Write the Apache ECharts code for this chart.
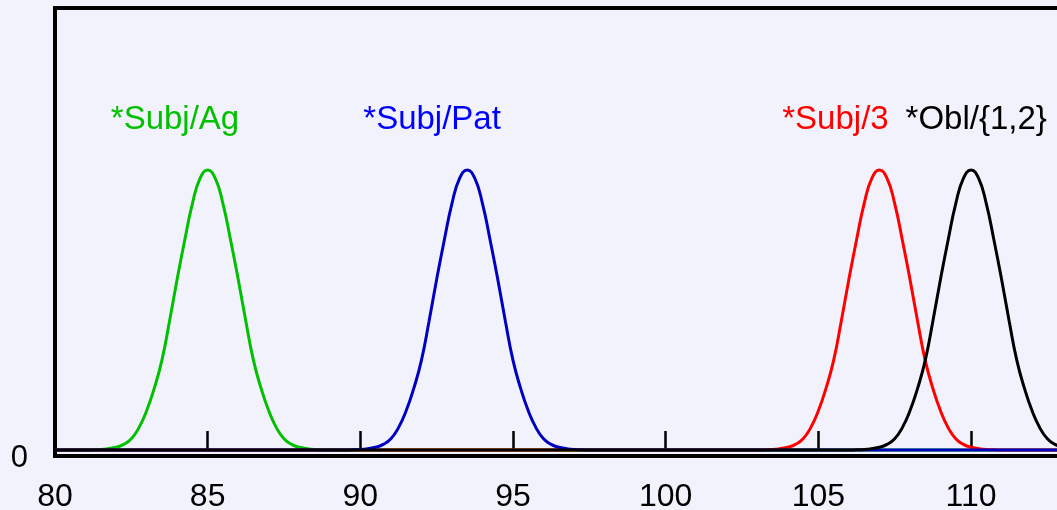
<!DOCTYPE html>
<html>
<head>
<meta charset="utf-8">
<script src="https://cdn.jsdelivr.net/npm/echarts@6/dist/echarts.min.js"></script>
<style>
  html, body { margin: 0; padding: 0; background: #f2f2fc; }
  #chart { width: 1057px; height: 510px; }
</style>
</head>
<body>
<div id="chart"></div>
<script>
// Score distributions for each candidate, read as [x, height] points
const subjAg = [[80,0],[81,0],[81.25,0.001],[81.5,0.002],[81.75,0.005],[82,0.01],[82.25,0.02],[82.5,0.04],[82.75,0.08],[83,0.14],[83.25,0.22],[83.5,0.32],[83.75,0.46],[84,0.61],[84.25,0.75],[84.5,0.88],[84.75,0.97],[85,1],[85.25,0.97],[85.5,0.88],[85.75,0.75],[86,0.61],[86.25,0.46],[86.5,0.32],[86.75,0.22],[87,0.14],[87.25,0.08],[87.5,0.04],[87.75,0.02],[88,0.01],[88.25,0.005],[88.5,0.002],[88.75,0.001],[89,0],[115,0]];
const subjPat = [[80,0],[89.5,0],[89.75,0.001],[90,0.002],[90.25,0.005],[90.5,0.01],[90.75,0.02],[91,0.04],[91.25,0.08],[91.5,0.14],[91.75,0.22],[92,0.32],[92.25,0.46],[92.5,0.61],[92.75,0.75],[93,0.88],[93.25,0.97],[93.5,1],[93.75,0.97],[94,0.88],[94.25,0.75],[94.5,0.61],[94.75,0.46],[95,0.32],[95.25,0.22],[95.5,0.14],[95.75,0.08],[96,0.04],[96.25,0.02],[96.5,0.01],[96.75,0.005],[97,0.002],[97.25,0.001],[97.5,0],[115,0]];
const subj3 = [[80,0],[103,0],[103.25,0.001],[103.5,0.002],[103.75,0.005],[104,0.01],[104.25,0.02],[104.5,0.04],[104.75,0.08],[105,0.14],[105.25,0.22],[105.5,0.32],[105.75,0.46],[106,0.61],[106.25,0.75],[106.5,0.88],[106.75,0.97],[107,1],[107.25,0.97],[107.5,0.88],[107.75,0.75],[108,0.61],[108.25,0.46],[108.5,0.32],[108.75,0.22],[109,0.14],[109.25,0.08],[109.5,0.04],[109.75,0.02],[110,0.01],[110.25,0.005],[110.5,0.002],[110.75,0.001],[111,0],[115,0]];
const obl12 = [[80,0],[106,0],[106.25,0.001],[106.5,0.002],[106.75,0.005],[107,0.01],[107.25,0.02],[107.5,0.04],[107.75,0.08],[108,0.14],[108.25,0.22],[108.5,0.32],[108.75,0.46],[109,0.61],[109.25,0.75],[109.5,0.88],[109.75,0.97],[110,1],[110.25,0.97],[110.5,0.88],[110.75,0.75],[111,0.61],[111.25,0.46],[111.5,0.32],[111.75,0.22],[112,0.14],[112.25,0.08],[112.5,0.04],[112.75,0.02],[113,0.01],[113.25,0.005],[113.5,0.002],[113.75,0.001],[114,0],[115,0]];

// Candidate names and where their captions sit (x in axis units)
const names = ['*Subj/Ag', '*Subj/Pat', '*Subj/3', '*Obl/{1,2}'];
const captionX = [83.93, 92.35, 105.56, 110.17];
const captionY = 1.18;

const FONT = '"Liberation Sans", Arial, sans-serif';

function curve(name, data, lineColor, textColor, idx, z) {
  return {
    type: 'line',
    name: name,
    data: data,
    smooth: 0.5,
    showSymbol: false,
    z: z,
    lineStyle: { color: lineColor, width: 3 },
    markPoint: {
      symbol: 'circle',
      symbolSize: 1,
      itemStyle: { color: 'transparent' },
      silent: true,
      label: {
        show: true,
        position: 'inside',
        formatter: name,
        color: textColor,
        fontFamily: FONT,
        fontSize: 33
      },
      data: [{ coord: [captionX[idx], captionY], name: name }]
    }
  };
}

const chart = echarts.init(document.getElementById('chart'));
chart.setOption({
  animation: false,
  backgroundColor: '#f2f2fc',
  grid: {
    left: 55, top: 8, bottom: 54, right: -66.7,
    outerBoundsMode: 'none',
    show: true,
    borderColor: '#000',
    borderWidth: 4,
    backgroundColor: 'transparent'
  },
  xAxis: {
    type: 'value',
    min: 80, max: 115, interval: 5,
    axisLine: { show: false },
    splitLine: { show: false },
    axisTick: { show: true, inside: true, length: 19, lineStyle: { color: '#000', width: 2.5 } },
    axisLabel: { color: '#000', fontFamily: FONT, fontSize: 32, margin: 25 }
  },
  yAxis: {
    type: 'value',
    min: -0.0214, max: 1.5786,
    axisLine: { show: false },
    splitLine: { show: false },
    axisTick: { show: false },
    axisLabel: {
      customValues: [0],
      color: '#000', fontFamily: FONT, fontSize: 31, margin: 27,
      verticalAlign: 'top', padding: [-7, 0, 0, 0]
    }
  },
  series: [
    curve(names[0], subjAg, '#00c000', '#00c000', 0, 2),
    curve(names[2], subj3, '#ff0000', '#ff0000', 2, 3),
    curve(names[1], subjPat, '#0000c0', '#0000ff', 1, 4),
    curve(names[3], obl12, '#000000', '#000000', 3, 5)
  ]
});
</script>
</body>
</html>
